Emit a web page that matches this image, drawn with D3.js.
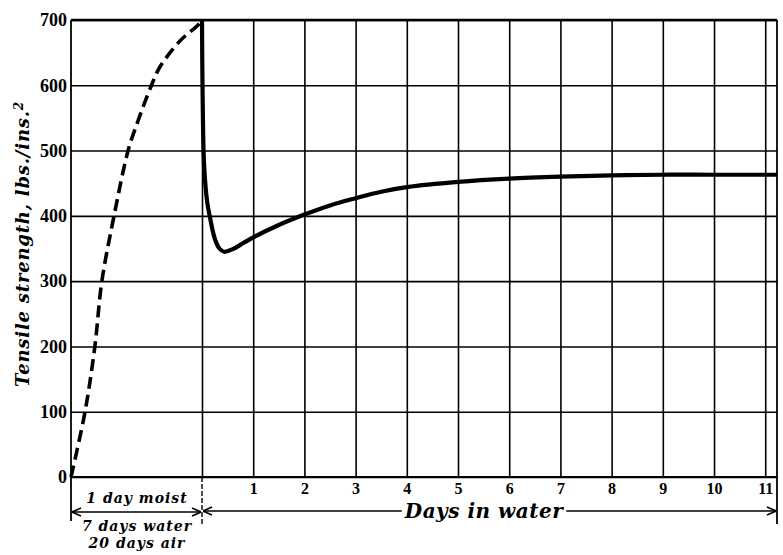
<!DOCTYPE html>
<html>
<head>
<meta charset="utf-8">
<script src="https://cdn.jsdelivr.net/npm/d3@7"></script>
<style>
  body { margin: 0; background: #fff; }
  svg { display: block; }
  .num { font-family: "Liberation Serif", serif; font-weight: bold; fill: #000; }
  .lab { font-family: "DejaVu Serif", serif; font-weight: bold; font-style: italic; fill: #000; }
</style>
</head>
<body>
<div id="chart"></div>
<script>
// tensile strength before immersion (age in days: 1 moist + 7 water + 20 air)
const preAge = [0, 3, 5.1, 6.6, 9.2, 12.2, 14, 17.2, 19, 23.3, 27.1, 28];
const preStrength = [0, 100, 200, 300, 400, 500, 539, 600, 628, 668, 692, 700];

// tensile strength after being put back in water
const waterDays = [0, 0.01, 0.04, 0.1, 0.16, 0.25, 0.34, 0.43, 0.6, 0.8, 1, 1.5, 2, 2.5, 3, 3.5, 4, 5, 6, 7, 8, 9, 10, 11, 11.23];
const waterStrength = [700, 600, 480, 422, 396, 365, 350, 345, 349, 358, 367, 386, 402, 416, 427, 437, 444, 452, 457, 460, 462, 463, 463, 463, 463];

const yTicks = [0, 100, 200, 300, 400, 500, 600, 700];
const dayTicks = [0, 1, 2, 3, 4, 5, 6, 7, 8, 9, 10, 11];

const W = 783, H = 555;
const plotL = 71, plotR = 777, plotT = 20, plotB = 477;

const svg = d3.select('#chart').append('svg')
    .attr('width', W)
    .attr('height', H);

const y = d3.scaleLinear().domain([0, 700]).range([plotB, plotT]);
const xDays = d3.scaleLinear().domain([0, 11.23]).range([202, plotR]);
const xAge = d3.scaleLinear().domain([0, 28]).range([plotL, 202]);

// horizontal grid + strength labels
const yAxis = svg.append('g')
    .attr('transform', `translate(${plotL},0)`)
    .call(d3.axisLeft(y).tickValues(yTicks).tickSize(-(plotR - plotL)).tickPadding(4));
yAxis.select('.domain').remove();
yAxis.selectAll('line').attr('stroke', '#000').attr('stroke-width', 1.6);
yAxis.selectAll('text').attr('class', 'num').style('font-size', '18px');

// vertical grid + day labels
const xAxis = svg.append('g')
    .attr('transform', `translate(0,${plotB})`)
    .call(d3.axisBottom(xDays).tickValues(dayTicks)
        .tickSize(-(plotB - plotT)).tickPadding(6)
        .tickFormat(d => d === 0 ? '' : d));
xAxis.select('.domain').remove();
xAxis.selectAll('line').attr('stroke', '#000').attr('stroke-width', 1.6);
xAxis.selectAll('text').attr('class', 'num').style('font-size', '16px');

// frame
const frame = svg.append('g').attr('stroke', '#000').attr('fill', 'none');
frame.append('line').attr('x1', plotL).attr('x2', plotR).attr('y1', plotT).attr('y2', plotT).attr('stroke-width', 2.6);
frame.append('line').attr('x1', plotL).attr('x2', plotL).attr('y1', plotT).attr('y2', 521).attr('stroke-width', 1.8);
frame.append('line').attr('x1', plotR).attr('x2', plotR).attr('y1', plotT).attr('y2', 524).attr('stroke-width', 1.8);
frame.append('line').attr('x1', plotL).attr('x2', plotR).attr('y1', plotB).attr('y2', plotB).attr('stroke-width', 2);
frame.append('line').attr('x1', xDays(0)).attr('x2', xDays(0)).attr('y1', plotB).attr('y2', 526)
    .attr('stroke-width', 1.4).attr('stroke-dasharray', '5,2');

// curves
const preLine = d3.line()
    .x((d, i) => xAge(preAge[i]))
    .y(d => y(d))
    .curve(d3.curveCatmullRom.alpha(0.5));
svg.append('path')
    .attr('d', preLine(preStrength))
    .attr('fill', 'none')
    .attr('stroke', '#000')
    .attr('stroke-width', 3.6)
    .attr('stroke-dasharray', '12,6');

const waterLine = d3.line()
    .x((d, i) => xDays(waterDays[i]))
    .y(d => y(d))
    .curve(d3.curveCatmullRom.alpha(0.5));
svg.append('path')
    .attr('d', waterLine(waterStrength))
    .attr('fill', 'none')
    .attr('stroke', '#000')
    .attr('stroke-width', 4.2)
    .attr('stroke-linejoin', 'round');

// arrow markers
const defs = svg.append('defs');
defs.append('marker')
    .attr('id', 'arr')
    .attr('viewBox', '0 -5 10 10')
    .attr('refX', 10).attr('refY', 0)
    .attr('markerWidth', 10).attr('markerHeight', 10)
    .attr('markerUnits', 'userSpaceOnUse')
    .attr('orient', 'auto-start-reverse')
    .append('path')
    .attr('d', 'M1,-4L10,0L1,4')
    .attr('fill', 'none')
    .attr('stroke', '#000')
    .attr('stroke-width', 1.6);

// left annotation
svg.append('line')
    .attr('x1', plotL + 1).attr('x2', xDays(0) - 1)
    .attr('y1', 512).attr('y2', 512)
    .attr('stroke', '#000').attr('stroke-width', 1.4)
    .attr('marker-start', 'url(#arr)').attr('marker-end', 'url(#arr)');

const leftLabels = ['1 day moist', '7 days water', '20 days air'];
const leftY = [503, 531, 548];
svg.append('g').selectAll('text')
    .data(leftLabels)
    .join('text')
    .attr('class', 'lab')
    .attr('x', 137)
    .attr('y', (d, i) => leftY[i])
    .attr('text-anchor', 'middle')
    .style('font-size', '14px')
    .style('letter-spacing', '1px')
    .text(d => d);

// days in water annotation
const dt = svg.append('text')
    .attr('class', 'lab')
    .attr('x', 484).attr('y', 518)
    .attr('text-anchor', 'middle')
    .style('font-size', '20px')
    .style('letter-spacing', '0.5px')
    .text('Days in water');
const tw = dt.node().getComputedTextLength();
svg.append('line')
    .attr('x1', xDays(0) + 1).attr('x2', 484 - tw / 2 - 3)
    .attr('y1', 511).attr('y2', 511)
    .attr('stroke', '#000').attr('stroke-width', 1.4)
    .attr('marker-start', 'url(#arr)');
svg.append('line')
    .attr('x1', 484 + tw / 2 + 3).attr('x2', plotR - 1)
    .attr('y1', 511).attr('y2', 511)
    .attr('stroke', '#000').attr('stroke-width', 1.4)
    .attr('marker-end', 'url(#arr)');

// y axis title
const yt = svg.append('text')
    .attr('class', 'lab')
    .attr('transform', 'translate(29,244) rotate(-90)')
    .attr('text-anchor', 'middle')
    .style('font-size', '18px')
    .style('letter-spacing', '0.8px');
yt.append('tspan').text('Tensile strength, lbs./ins.');
yt.append('tspan').attr('dy', '-0.5em').style('font-size', '12px').text('2');
</script>
</body>
</html>
